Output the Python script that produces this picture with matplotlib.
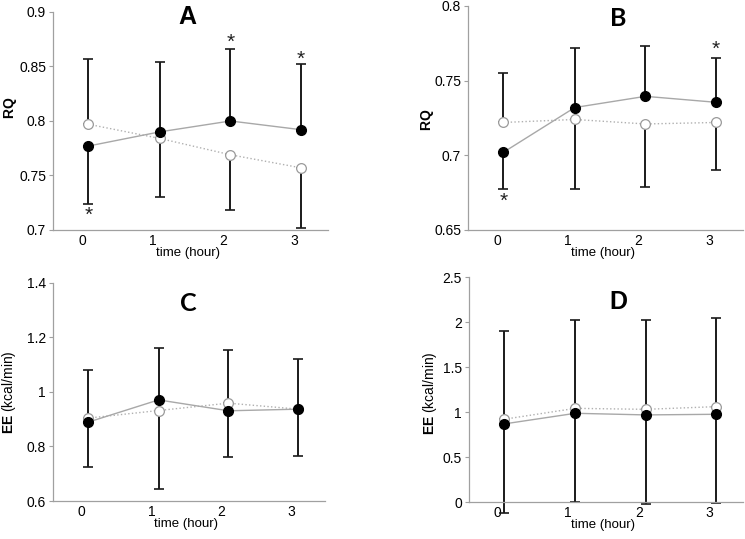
import matplotlib.pyplot as plt

plt.rcParams["font.family"] = ["Liberation Sans", "DejaVu Sans"]
plt.rcParams["mathtext.fontset"] = "custom"
plt.rcParams["mathtext.bf"] = "Liberation Sans:bold"
plt.rcParams["mathtext.rm"] = "Liberation Sans"

hours = [0.09, 1.1, 2.1, 3.1]
tick_hours = [0, 1, 2, 3]

# Panel A - RQ
a_filled = [0.777, 0.790, 0.800, 0.792]
a_open = [0.797, 0.784, 0.769, 0.757]
a_filled_lo = [0.053, 0, 0, 0]
a_filled_hi = [0, 0.064, 0.066, 0.060]
a_open_lo = [0, 0.054, 0.051, 0.055]
a_open_hi = [0.060, 0, 0, 0]
a_stars = [0.713, None, 0.872, 0.857]

# Panel B - RQ
b_filled = [0.702, 0.732, 0.7395, 0.7355]
b_open = [0.722, 0.724, 0.721, 0.722]
b_filled_lo = [0.0245, 0, 0, 0]
b_filled_hi = [0, 0.040, 0.034, 0.030]
b_open_lo = [0, 0.0465, 0.042, 0.032]
b_open_hi = [0.033, 0, 0, 0]
b_stars = [0.669, None, None, 0.771]

# Panel C - EE
c_filled = [0.889, 0.971, 0.931, 0.937]
c_open = [0.904, 0.932, 0.959, 0.937]
c_filled_lo = [0.165, 0, 0.168, 0]
c_filled_hi = [0, 0.192, 0, 0.185]
c_open_lo = [0, 0.289, 0, 0.172]
c_open_hi = [0.175, 0, 0.196, 0]

# Panel D - EE
d_filled = [0.868, 0.986, 0.968, 0.975]
d_open = [0.920, 1.041, 1.030, 1.060]
d_filled_lo = [0.990, 0.990, 0.990, 0.985]
d_filled_hi = [0, 0, 0, 0]
d_open_lo = [0, 0, 0, 0]
d_open_hi = [0.982, 0.986, 0.990, 0.985]

fig = plt.figure(figsize=(7.45, 5.39), dpi=100)

# letter, axes rect, ylim, yticks, labels, ylabel, title pos, ylabel pos, title font, data...
panels = [
    ("A", [0.0711, 0.5733, 0.3691, 0.4045], (0.7, 0.9), [0.7, 0.75, 0.8, 0.85, 0.9], ["0.7", "0.75", "0.8", "0.85", "0.9"],
     r"$\mathbf{RQ}$", (0.49, 0.975), (-0.156, 0.56), "Liberation Sans",
     a_filled, a_open, a_filled_lo, a_filled_hi, a_open_lo, a_open_hi, a_stars),
    ("B", [0.6282, 0.5733, 0.3691, 0.4156], (0.65, 0.8), [0.65, 0.7, 0.75, 0.8], ["0.65", "0.7", "0.75", "0.8"],
     r"$\mathbf{RQ}$", (0.545, 0.946), (-0.149, 0.49), "Lato",
     b_filled, b_open, b_filled_lo, b_filled_hi, b_open_lo, b_open_hi, b_stars),
    ("C", [0.0711, 0.0705, 0.3651, 0.4045], (0.6, 1.4), [0.6, 0.8, 1.0, 1.2, 1.4], ["0.6", "0.8", "1", "1.2", "1.4"],
     r"$\mathbf{EE}$ (kcal/min)", (0.496, 0.908), (-0.162, 0.5), "Lato",
     c_filled, c_open, c_filled_lo, c_filled_hi, c_open_lo, c_open_hi, None),
    ("D", [0.6295, 0.0686, 0.3678, 0.4174], (0, 2.5), [0, 0.5, 1, 1.5, 2, 2.5], ["0", "0.5", "1", "1.5", "2", "2.5"],
     r"$\mathbf{EE}$ (kcal/min)", (0.544, 0.889), (-0.142, 0.484), "Liberation Sans",
     d_filled, d_open, d_filled_lo, d_filled_hi, d_open_lo, d_open_hi, None),
]

for (letter, rect, ylim, yticks, yticklabels, ylabel, title_pos, ylabel_pos, title_font,
     filled, opn, f_lo, f_hi, o_lo, o_hi, stars) in panels:
    ax = fig.add_axes(rect)

    ax.errorbar(hours, filled, yerr=[f_lo, f_hi], fmt="none", ecolor="#1a1a1a",
                elinewidth=1.4, capsize=3.5, capthick=1.2, clip_on=False, zorder=2)
    ax.errorbar(hours, opn, yerr=[o_lo, o_hi], fmt="none", ecolor="#1a1a1a",
                elinewidth=1.4, capsize=3.5, capthick=1.2, clip_on=False, zorder=2)

    ax.plot(hours, opn, linestyle=":", color="#b0b0b0", linewidth=1.0, zorder=3)
    ax.plot(hours, filled, linestyle="-", color="#a8a8a8", linewidth=1.0, zorder=3)
    ax.plot(hours, opn, linestyle="none", marker="o", markersize=7,
            markerfacecolor="white", markeredgecolor="#9a9a9a", markeredgewidth=0.9, zorder=4)
    ax.plot(hours, filled, linestyle="none", marker="o", markersize=7,
            color="black", zorder=5)

    if stars:
        for x, s in zip(hours, stars):
            if s is not None:
                ax.text(x, s, "*", ha="center", va="center", fontsize=15, color="#222222")

    ax.set_xlim(-0.41, 3.48)
    ax.set_ylim(*ylim)
    ax.set_xticks(tick_hours)
    ax.set_xticklabels([str(t) for t in tick_hours])
    ax.set_yticks(yticks)
    ax.set_yticklabels(yticklabels)
    ax.tick_params(axis="x", length=0, labelsize=10, pad=3)
    ax.tick_params(axis="y", length=3, color="#a0a0a0", labelsize=10, pad=2)

    for side in ["top", "right"]:
        ax.spines[side].set_visible(False)
    for side in ["left", "bottom"]:
        ax.spines[side].set_color("#a0a0a0")
        ax.spines[side].set_linewidth(0.9)

    ax.set_xlabel("time (hour)", fontsize=9.5, va="center")
    ax.xaxis.set_label_coords(0.49, -23 / (rect[3] * 539))
    ax.set_ylabel(ylabel, fontsize=10, va="center")
    ax.yaxis.set_label_coords(*ylabel_pos)
    ax.text(title_pos[0], title_pos[1], letter, transform=ax.transAxes, ha="center", va="center",
            fontsize=18, fontweight="bold", family=[title_font, "DejaVu Sans"])

fig.savefig("out.png", dpi=100)
